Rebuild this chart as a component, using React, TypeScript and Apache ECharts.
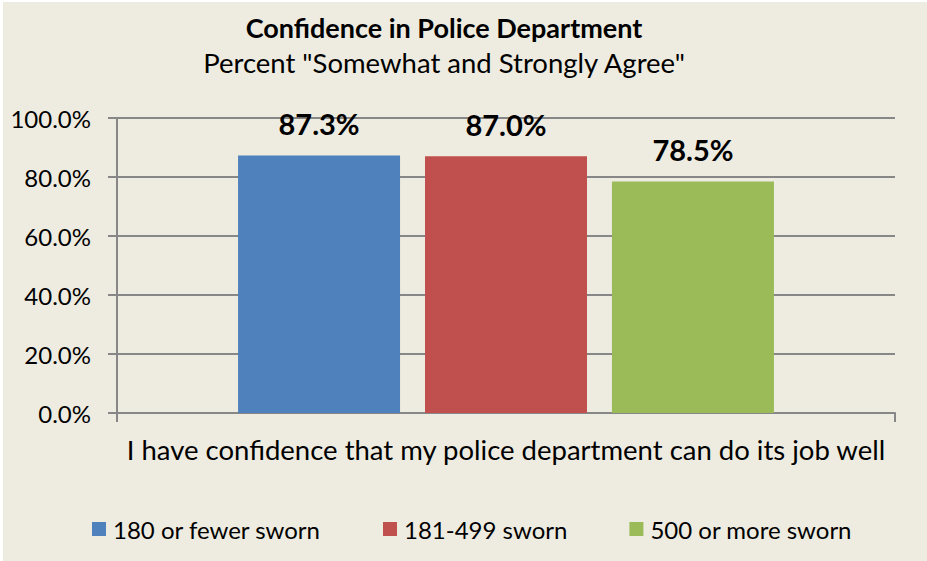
import React, { useEffect, useRef } from "react";
import * as echarts from "echarts";

const titleText = "Confidence in Police Department";
const subtitleText = 'Percent "Somewhat and Strongly Agree"';
const categories = ["I have confidence that my police department can do its job well"];
const seriesNames = ["180 or fewer sworn", "181-499 sworn", "500 or more sworn"];
const seriesValues = [87.3, 87.0, 78.5];
const seriesColors = ["#4F81BD", "#C0504D", "#9BBB59"];
const yTicks = [0, 20, 40, 60, 80, 100];

const FONT = "Lato, 'Open Sans', sans-serif";
const BG = "#EEECE1";
const GRID = "#878787";

export default function App() {
  const ref = useRef<HTMLDivElement>(null);
  useEffect(() => {
    document.body.style.margin = "0";
    const chart = echarts.init(ref.current!, undefined, { renderer: "svg" });
    const option: any = {
      animation: false,
      backgroundColor: BG,
      textStyle: { fontFamily: FONT, color: "#000" },
      graphic: [
        {
          type: "text",
          x: 441,
          y: 25,
          style: {
            text: titleText,
            font: `bold 27px ${FONT}`,
            fill: "#000",
            align: "center",
            verticalAlign: "middle",
          },
        },
        {
          type: "text",
          x: 441,
          y: 60,
          style: {
            text: subtitleText,
            font: `27.5px ${FONT}`,
            fill: "#000",
            align: "center",
            verticalAlign: "middle",
          },
        },
      ],
      grid: { left: 114, right: 32, top: 116, bottom: 148, containLabel: false },
      legend: {
        top: 510,
        left: 84,
        itemWidth: 14,
        itemHeight: 14,
        itemGap: 62,
        icon: "rect",
        textStyle: { fontFamily: FONT, fontSize: 24, color: "#000", padding: [0, 0, 0, 2] },
        data: seriesNames,
      },
      xAxis: {
        type: "category",
        data: categories,
        axisLine: { lineStyle: { color: GRID, width: 2 } },
        axisTick: { show: true, length: 9, lineStyle: { color: GRID, width: 2 } },
        axisLabel: { fontFamily: FONT, fontSize: 27.5, color: "#000", margin: 22 },
      },
      yAxis: {
        type: "value",
        min: yTicks[0],
        max: yTicks[yTicks.length - 1],
        interval: yTicks[1] - yTicks[0],
        axisLine: { show: true, lineStyle: { color: GRID, width: 2 } },
        axisTick: { show: true, length: 9, lineStyle: { color: GRID, width: 2 } },
        splitLine: { lineStyle: { color: GRID, width: 2 } },
        axisLabel: {
          fontFamily: FONT,
          fontSize: 24,
          color: "#000",
          margin: 26,
          formatter: (v: number) => v.toFixed(1) + "%",
        },
      },
      series: seriesNames.map((name, i) => ({
        name,
        type: "bar",
        data: [seriesValues[i]],
        barWidth: 162,
        barGap: "15.4%",
        itemStyle: { color: seriesColors[i] },
        label: {
          show: true,
          position: "top",
          distance: 17,
          fontFamily: FONT,
          fontWeight: "bold",
          fontSize: 29,
          color: "#000",
          formatter: (p: any) => Number(p.value).toFixed(1) + "%",
        },
      })),
    };
    chart.setOption(option);
    return () => chart.dispose();
  }, []);
  return (
    <div style={{ position: "fixed", left: 0, top: 0, width: 927, height: 561, background: "#fff" }}>
      <div ref={ref} style={{ position: "absolute", left: 3, top: 2, width: 924, height: 559 }} />
    </div>
  );
}
